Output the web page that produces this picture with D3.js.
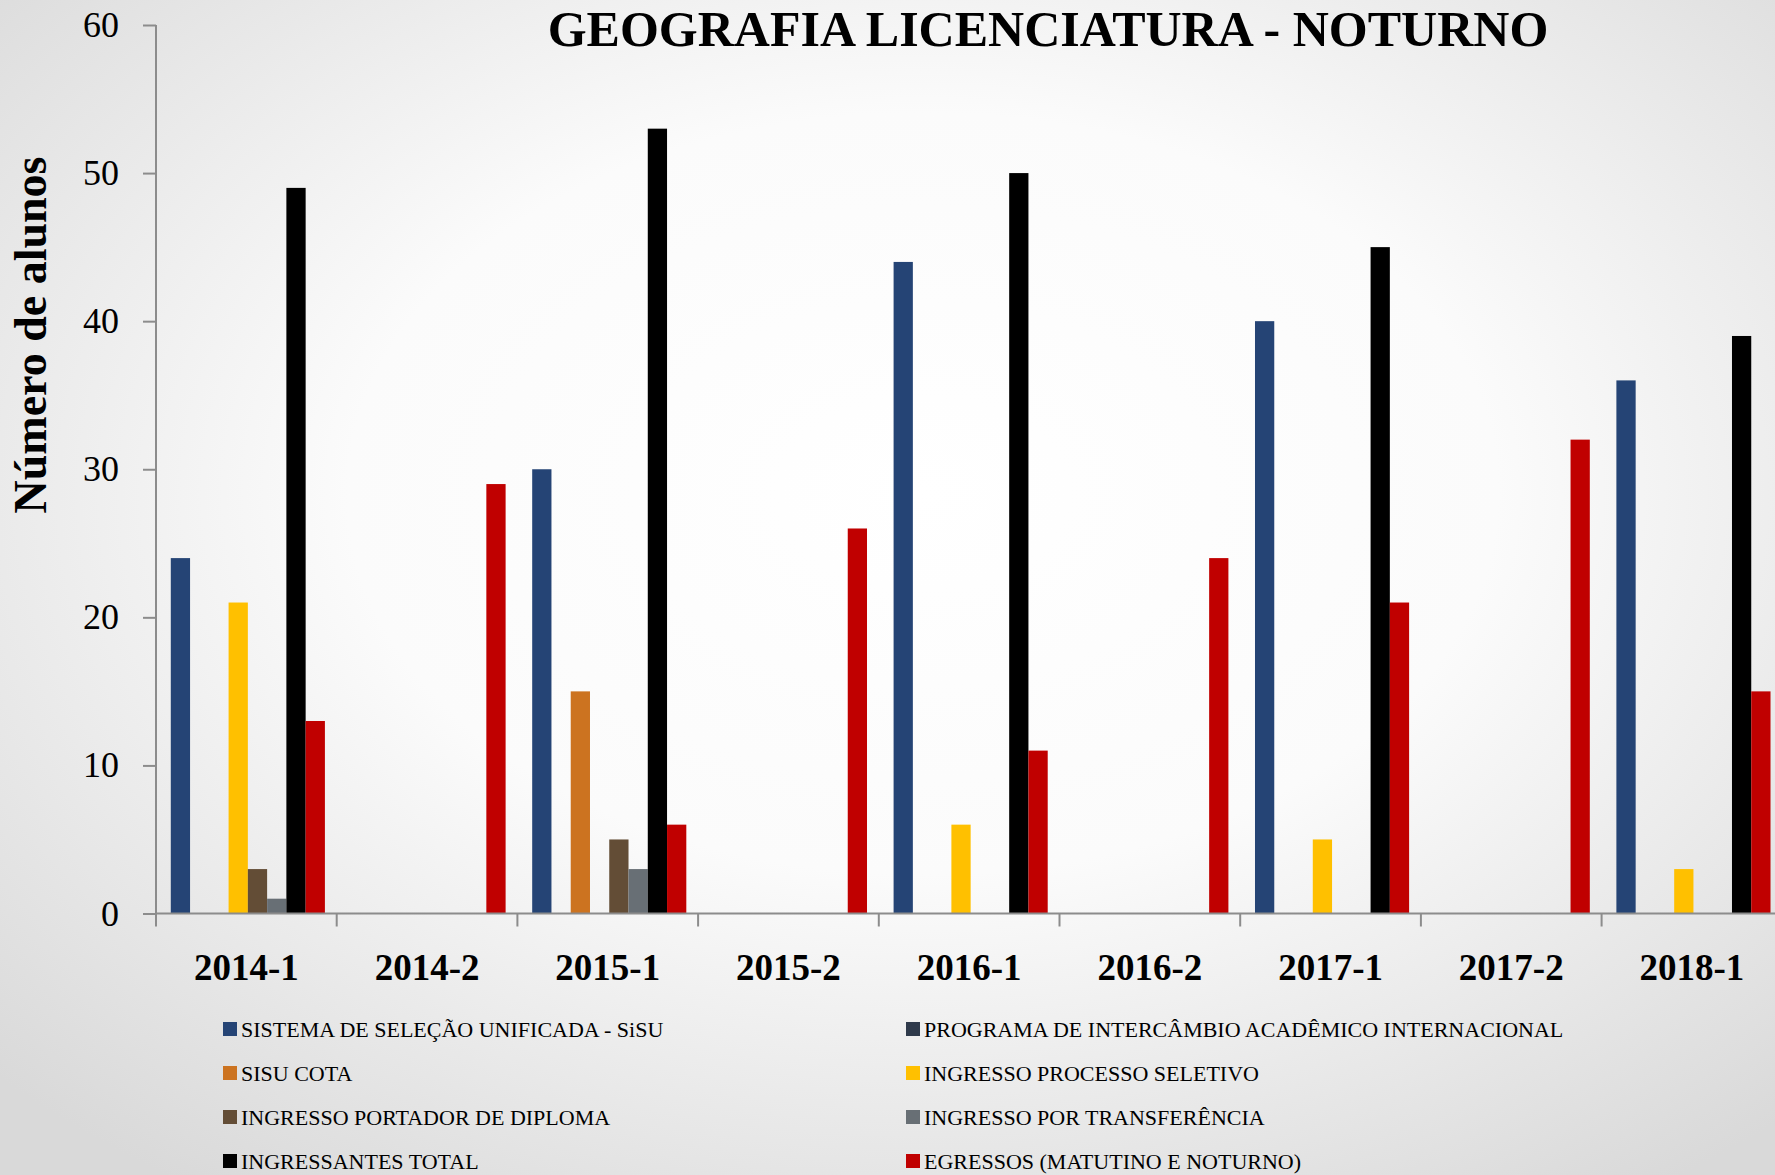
<!DOCTYPE html>
<html>
<head>
<meta charset="utf-8">
<script src="https://cdn.jsdelivr.net/npm/d3@7/dist/d3.min.js"></script>
<style>
  html, body { margin: 0; padding: 0; overflow: hidden; }
  svg { display: block; }
  .axis-line { stroke: #8c8c8c; stroke-width: 2; }
</style>
</head>
<body>
<svg id="chart" width="1775" height="1175"></svg>
<script>
// semesters on the x axis
const categories = ["2014-1", "2014-2", "2015-1", "2015-2", "2016-1", "2016-2", "2017-1", "2017-2", "2018-1"];

// one array per series, same order as categories
const sisu              = [24, 0, 30, 0, 44, 0, 40, 0, 36];
const intercambio       = [0, 0, 0, 0, 0, 0, 0, 0, 0];
const sisuCota          = [0, 0, 15, 0, 0, 0, 0, 0, 0];
const processoSeletivo  = [21, 0, 0, 0, 6, 0, 5, 0, 3];
const portadorDiploma   = [3, 0, 5, 0, 0, 0, 0, 0, 0];
const transferencia     = [1, 0, 3, 0, 0, 0, 0, 0, 0];
const ingressantesTotal = [49, 0, 53, 0, 50, 0, 45, 0, 39];
const egressos          = [13, 29, 6, 26, 11, 24, 21, 32, 15];

const seriesNames = [
  "SISTEMA DE SELEÇÃO UNIFICADA - SiSU",
  "PROGRAMA DE INTERCÂMBIO ACADÊMICO INTERNACIONAL",
  "SISU COTA",
  "INGRESSO PROCESSO SELETIVO",
  "INGRESSO PORTADOR DE DIPLOMA",
  "INGRESSO POR TRANSFERÊNCIA",
  "INGRESSANTES TOTAL",
  "EGRESSOS (MATUTINO E NOTURNO)"
];
const seriesColors = ["#254475", "#2f3a4b", "#cc7320", "#ffc000", "#634d36", "#686f75", "#000000", "#c00000"];
const yTicks = [0, 10, 20, 30, 40, 50, 60];

const title = "GEOGRAFIA LICENCIATURA - NOTURNO";
const yLabel = "Número de alunos";

const seriesValues = [sisu, intercambio, sisuCota, processoSeletivo, portadorDiploma, transferencia, ingressantesTotal, egressos];

const svg = d3.select("#chart");
const width = +svg.attr("width");
const height = +svg.attr("height");
const serif = "'Liberation Serif', 'DejaVu Serif', serif";

/* background: soft radial gradient */
const defs = svg.append("defs");
const grad = defs.append("radialGradient")
    .attr("id", "bg")
    .attr("cx", "52%").attr("cy", "42%").attr("r", "72%");
grad.append("stop").attr("offset", "0%").attr("stop-color", "#ffffff");
grad.append("stop").attr("offset", "45%").attr("stop-color", "#fbfbfb");
grad.append("stop").attr("offset", "100%").attr("stop-color", "#d9d9d9");
svg.append("rect").attr("width", width).attr("height", height).attr("fill", "url(#bg)");

/* scales - the plot runs a little past the right edge, like the original */
const plotLeft = 156, step = 180.7;
const plotTop = 25, plotBottom = 913.5;

const x0 = d3.scaleBand()
    .domain(categories)
    .range([plotLeft, plotLeft + step * categories.length])
    .padding(0);

const x1 = d3.scaleBand()
    .domain(d3.range(seriesNames.length))
    .range([1.5, x0.bandwidth() + 1.5])
    .paddingInner(0)
    .paddingOuter(0.69);

const y = d3.scaleLinear().domain([0, 60]).range([plotBottom, plotTop]);

/* bars */
const groups = svg.append("g")
    .selectAll("g")
    .data(categories)
    .enter().append("g")
      .attr("transform", d => `translate(${x0(d)},0)`);

groups.selectAll("rect")
    .data((c, ci) => seriesValues.map((vals, si) => ({ s: si, v: vals[ci] })).filter(d => d.v > 0))
    .enter().append("rect")
      .attr("x", d => x1(d.s))
      .attr("y", d => y(d.v))
      .attr("width", x1.bandwidth())
      .attr("height", d => y(0) - y(d.v))
      .attr("fill", d => seriesColors[d.s]);

/* y axis */
const yAxis = d3.axisLeft(y)
    .tickValues(yTicks)
    .tickSize(13)
    .tickPadding(24)
    .tickFormat(d3.format("d"));

const yAxisG = svg.append("g")
    .attr("transform", `translate(${plotLeft},0)`)
    .call(yAxis);
yAxisG.select(".domain").remove();
yAxisG.append("line").attr("class", "axis-line")
    .attr("x1", 0).attr("x2", 0).attr("y1", plotTop).attr("y2", plotBottom);
yAxisG.selectAll(".tick line").attr("stroke", "#8c8c8c").attr("stroke-width", 2);
yAxisG.selectAll(".tick text")
    .attr("fill", "#000")
    .style("font-family", serif)
    .style("font-size", "36px");

/* x axis: labels centred, ticks at the group boundaries */
const xAxis = d3.axisBottom(x0).tickSize(0).tickPadding(40);
const xAxisG = svg.append("g")
    .attr("transform", `translate(0,${plotBottom})`)
    .call(xAxis);
xAxisG.select(".domain").remove();
xAxisG.append("line").attr("class", "axis-line")
    .attr("x1", plotLeft).attr("x2", width).attr("y1", 0).attr("y2", 0);
xAxisG.selectAll(".tick text")
    .attr("fill", "#000")
    .attr("dy", "0.71em")
    .style("font-family", serif)
    .style("font-weight", "bold")
    .style("font-size", "37px");
xAxisG.selectAll(".bound")
    .data(categories)
    .enter().append("line")
      .attr("class", "axis-line")
      .attr("x1", d => x0(d)).attr("x2", d => x0(d))
      .attr("y1", 0).attr("y2", 13);

/* title and axis label */
svg.append("text")
    .attr("x", 1048).attr("y", 46)
    .attr("text-anchor", "middle")
    .style("font-family", serif)
    .style("font-weight", "bold")
    .style("font-size", "50px")
    .text(title);

svg.append("text")
    .attr("transform", `translate(46,335) rotate(-90)`)
    .attr("text-anchor", "middle")
    .style("font-family", serif)
    .style("font-weight", "bold")
    .style("font-size", "46px")
    .text(yLabel);

/* legend, two columns, row-major */
const legendCols = [223, 906];
const legendRow0 = 1029, legendRowStep = 44;

const legend = svg.append("g")
    .selectAll("g")
    .data(seriesNames)
    .enter().append("g")
      .attr("transform", (d, i) => `translate(${legendCols[i % 2]},${legendRow0 + Math.floor(i / 2) * legendRowStep})`);

legend.append("rect")
    .attr("x", 0).attr("y", -7)
    .attr("width", 14).attr("height", 14)
    .attr("fill", (d, i) => seriesColors[i]);

legend.append("text")
    .attr("x", 18).attr("y", 0)
    .attr("dy", "0.35em")
    .style("font-family", serif)
    .style("font-size", "22px")
    .text(d => d);
</script>
</body>
</html>
